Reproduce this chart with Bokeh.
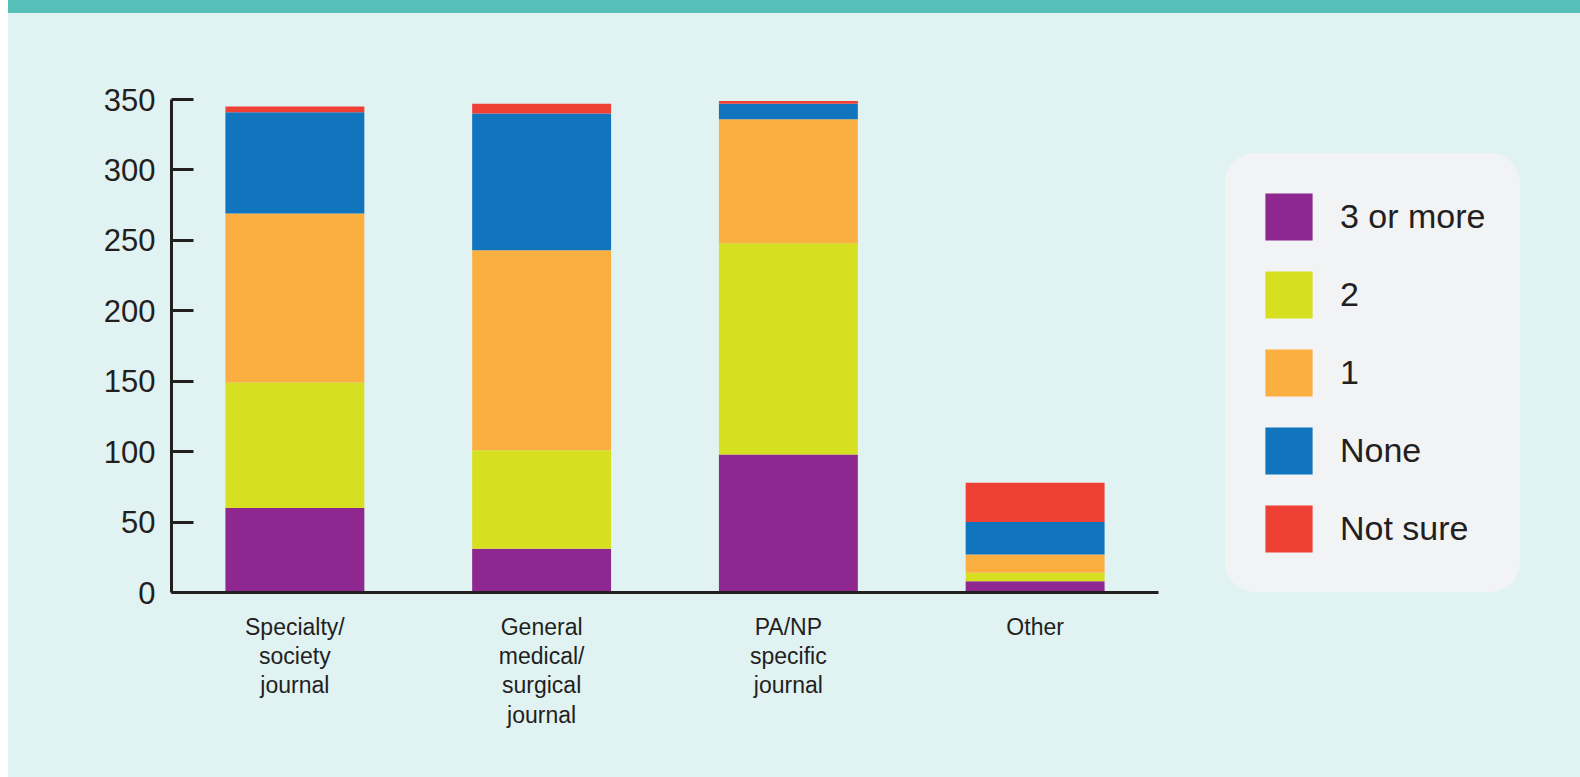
from bokeh.plotting import figure
from bokeh.models import ColumnDataSource, FactorRange, Range1d, FixedTicker, Div, Legend, LegendItem
from bokeh.layouts import column, row
from bokeh.embed import file_html
from bokeh.resources import INLINE

# Journal categories (x axis) and the stacked counts for each answer
journals = [
    "Specialty/\nsociety\njournal",
    "General\nmedical/\nsurgical\njournal",
    "PA/NP\nspecific\njournal",
    "Other",
]
three_or_more = [60, 31, 98, 8]
two = [89, 70, 150, 6]
one = [120, 142, 88, 13]
none_count = [72, 97, 11, 23]
not_sure = [4, 7, 2, 28]

series = ["3 or more", "2", "1", "None", "Not sure"]
colors = ["#8E278F", "#D6E021", "#FCAF41", "#1075BC", "#EF4036"]
y_ticks = [0, 50, 100, 150, 200, 250, 300, 350]

BG = "#E0F2F2"
BAND = "#56BFB8"
INK = "#231F20"
PANEL = "#F1F3F4"
FONT = "Liberation Sans"

source = ColumnDataSource(data={
    "journal": journals,
    "3 or more": three_or_more,
    "2": two,
    "1": one,
    "None": none_count,
    "Not sure": not_sure,
})

p = figure(
    x_range=FactorRange(*journals, range_padding=0),
    y_range=Range1d(0, 350),
    width=1190, height=764,
    output_backend="svg", toolbar_location=None,
    min_border_left=163, min_border_right=40,
    min_border_top=86, min_border_bottom=185,
    background_fill_color=BG, border_fill_color=BG,
    outline_line_color=None,
)

p.vbar_stack(series, x="journal", width=0.563, color=colors,
             line_color=None, source=source)

p.xgrid.visible = False
p.ygrid.visible = False

# y axis: inward ticks every 50
p.yaxis.ticker = FixedTicker(ticks=y_ticks)
p.yaxis.major_tick_in = 22
p.yaxis.major_tick_out = 0
p.yaxis.minor_tick_line_color = None
p.yaxis.major_tick_line_width = 3
p.yaxis.major_tick_line_color = INK
p.yaxis.axis_line_width = 3
p.yaxis.axis_line_color = INK
p.yaxis.major_label_text_font = FONT
p.yaxis.major_label_text_font_size = "31px"
p.yaxis.major_label_text_color = INK
p.yaxis.major_label_standoff = 16

# x axis: plain baseline with multi-line category names
p.xaxis.major_tick_in = 0
p.xaxis.major_tick_out = 0
p.xaxis.axis_line_width = 3
p.xaxis.axis_line_color = INK
p.xaxis.major_label_text_font = FONT
p.xaxis.major_label_text_font_size = "23px"
p.xaxis.major_label_text_line_height = 1.13
p.xaxis.major_label_text_color = INK
p.xaxis.major_label_standoff = 21

# legend panel: the same stacks on a very tall y window (so they collapse
# to nothing) supply the swatches for the key
lg = figure(
    width=382, height=764,
    x_range=FactorRange(*journals, range_padding=0),
    y_range=Range1d(0, 1e7),
    output_backend="svg", toolbar_location=None,
    x_axis_location=None, y_axis_location=None,
    min_border=0, background_fill_color=BG, border_fill_color=BG,
    outline_line_color=BG, outline_line_width=2,
)
lg.xgrid.visible = False
lg.ygrid.visible = False
stacks = lg.vbar_stack(series, x="journal", width=0.563, color=colors,
                       line_color=None, source=source)
items = [LegendItem(label=s, renderers=[r]) for s, r in zip(series, stacks)]
leg = Legend(
    items=items,
    location=(27, 0),
    margin=0,
    padding=34,
    spacing=19,
    glyph_width=59,
    glyph_height=59,
    label_standoff=22,
    label_text_font=FONT,
    label_text_font_size="34px",
    label_text_color=INK,
    background_fill_color=PANEL,
    background_fill_alpha=1,
    border_line_color=PANEL,
    border_line_alpha=0,
    border_radius=30,
)
lg.add_layout(leg, "center")

band = Div(width=1572, height=13, margin=(0, 0, 0, 8),
           styles={"background-color": BAND})

charts = row(p, lg, spacing=0, margin=(0, 0, 0, 8),
             styles={"background-color": BG})
layout = column(band, charts, spacing=0)

open("out.html", "w").write(file_html(layout, INLINE))
